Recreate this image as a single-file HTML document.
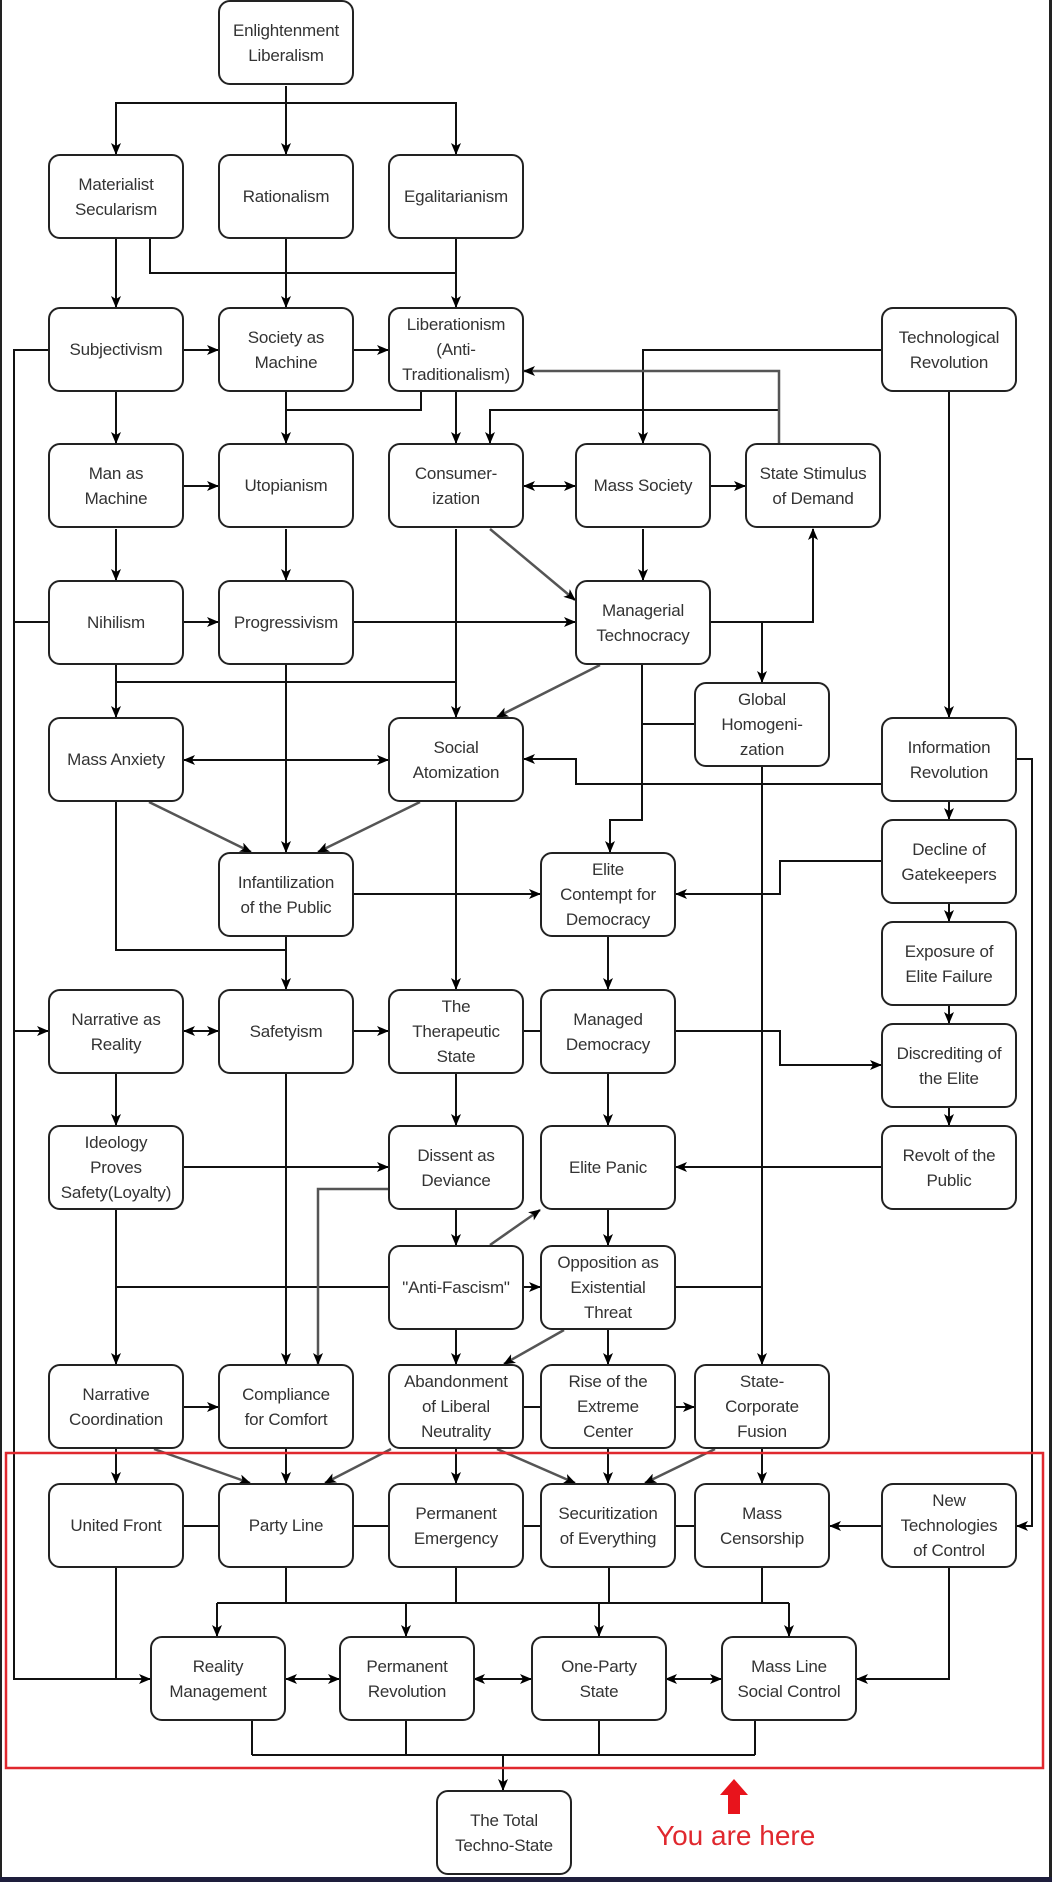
<!DOCTYPE html>
<html><head><meta charset="utf-8"><style>
body{margin:0;background:#fff;}
#c{position:relative;width:1052px;height:1882px;overflow:hidden;background:#fff;font-family:"Liberation Sans",Arial,sans-serif;}
.b{position:absolute;width:132px;height:81px;border:2px solid #222;border-radius:12px;background:#fff;display:flex;align-items:center;justify-content:center;text-align:center;font-size:17px;line-height:25px;color:#333;box-sizing:content-box;z-index:2;white-space:nowrap;letter-spacing:-0.2px}
svg{position:absolute;left:0;top:0;z-index:1}
</style></head><body><div id="c">
<svg width="1052" height="1882" viewBox="0 0 1052 1882">
<defs>
<marker id="a" markerWidth="12" markerHeight="10" refX="11" refY="5" orient="auto-start-reverse" markerUnits="userSpaceOnUse"><path d="M0,0 L12,5 L0,10 L3,5 z" fill="#000"/></marker>
</defs>
<rect x="0" y="0" width="2" height="1882" fill="#222"/>
<rect x="1049" y="0" width="3" height="1882" fill="#222"/>
<g fill="none" stroke="#111" stroke-width="2">
<!-- top -->
<path d="M286 86V154" marker-end="url(#a)"/>
<path d="M116 154V103H456V154" marker-end="url(#a)"/>
<path d="M116 103V154" marker-end="url(#a)"/>
<path d="M116 239V307" marker-end="url(#a)"/>
<path d="M286 239V307" marker-end="url(#a)"/>
<path d="M456 239V307" marker-end="url(#a)"/>
<path d="M150 239V273H456"/>
<path d="M184 350H218" marker-end="url(#a)"/>
<path d="M354 350H388" marker-end="url(#a)"/>
<path d="M48 350H14V1679H150" marker-end="url(#a)"/>
<path d="M48 622H14"/>
<path d="M14 1031H48" marker-end="url(#a)"/>
<path d="M116 392V443" marker-end="url(#a)"/>
<path d="M286 392V443" marker-end="url(#a)"/>
<path d="M421 392V410H286"/>
<path d="M456 392V443" marker-end="url(#a)"/>
<path d="M881 350H643V443" marker-end="url(#a)"/>
<path d="M779 443V410H490V443" marker-end="url(#a)"/>
<path d="M949 392V717" marker-end="url(#a)"/>
<path d="M184 486H218" marker-end="url(#a)"/>
<path d="M524 486H575" marker-start="url(#a)" marker-end="url(#a)"/>
<path d="M711 486H745" marker-end="url(#a)"/>
<path d="M116 529V580" marker-end="url(#a)"/>
<path d="M286 529V580" marker-end="url(#a)"/>
<path d="M643 529V580" marker-end="url(#a)"/>
<path d="M184 622H218" marker-end="url(#a)"/>
<path d="M354 622H575" marker-end="url(#a)"/>
<path d="M711 622H813V529" marker-end="url(#a)"/>
<path d="M762 622V682" marker-end="url(#a)"/>
<path d="M456 529V717" marker-end="url(#a)"/>
<path d="M116 665V717" marker-end="url(#a)"/>
<path d="M116 682H456"/>
<path d="M642 665V820H610V852" marker-end="url(#a)"/>
<path d="M642 724H694"/>
<path d="M762 767V1364" marker-end="url(#a)"/>
<path d="M184 760H388" marker-start="url(#a)" marker-end="url(#a)"/>
<path d="M881 784H576V759H524" marker-end="url(#a)"/>
<path d="M1017 759H1032V1526H1017" marker-end="url(#a)"/>
<path d="M949 802V819" marker-end="url(#a)"/>
<path d="M286 665V852" marker-end="url(#a)"/>
<path d="M116 802V950H286"/>
<path d="M286 937V989" marker-end="url(#a)"/>
<path d="M456 802V989" marker-end="url(#a)"/>
<path d="M354 894H540" marker-end="url(#a)"/>
<path d="M881 861H780V894H676" marker-end="url(#a)"/>
<path d="M949 903V921" marker-end="url(#a)"/>
<path d="M949 1005V1023" marker-end="url(#a)"/>
<path d="M949 1108V1125" marker-end="url(#a)"/>
<path d="M608 937V989" marker-end="url(#a)"/>
<path d="M676 1031H780V1065H881" marker-end="url(#a)"/>
<path d="M184 1031H218" marker-start="url(#a)" marker-end="url(#a)"/>
<path d="M354 1031H388" marker-end="url(#a)"/>
<path d="M524 1031H540"/>
<path d="M116 1074V1125" marker-end="url(#a)"/>
<path d="M456 1074V1125" marker-end="url(#a)"/>
<path d="M184 1167H388" marker-end="url(#a)"/>
<path d="M881 1167H676" marker-end="url(#a)"/>
<path d="M456 1210V1245" marker-end="url(#a)"/>
<path d="M608 1074V1125" marker-end="url(#a)"/>
<path d="M608 1210V1245" marker-end="url(#a)"/>
<path d="M524 1287H540" marker-end="url(#a)"/>
<path d="M116 1210V1364" marker-end="url(#a)"/>
<path d="M116 1287H388"/>
<path d="M676 1287H762"/>
<path d="M456 1330V1364" marker-end="url(#a)"/>
<path d="M608 1330V1364" marker-end="url(#a)"/>
<path d="M286 1074V1364" marker-end="url(#a)"/>
<path d="M184 1407H218" marker-end="url(#a)"/>
<path d="M524 1407H540"/>
<path d="M676 1407H694" marker-end="url(#a)"/>
<path d="M116 1449V1483" marker-end="url(#a)"/>
<path d="M286 1449V1483" marker-end="url(#a)"/>
<path d="M456 1449V1483" marker-end="url(#a)"/>
<path d="M608 1449V1483" marker-end="url(#a)"/>
<path d="M762 1449V1483" marker-end="url(#a)"/>
<path d="M184 1526H218M354 1526H388M524 1526H540M676 1526H694"/>
<path d="M881 1526H830" marker-end="url(#a)"/>
<path d="M286 1568V1603M456 1568V1603M609 1568V1603M762 1568V1603M217 1603H789"/>
<path d="M217 1603V1636" marker-end="url(#a)"/>
<path d="M406 1603V1636" marker-end="url(#a)"/>
<path d="M599 1603V1636" marker-end="url(#a)"/>
<path d="M789 1603V1636" marker-end="url(#a)"/>
<path d="M116 1568V1679"/>
<path d="M949 1568V1679H857" marker-end="url(#a)"/>
<path d="M286 1679H339" marker-start="url(#a)" marker-end="url(#a)"/>
<path d="M474 1679H531" marker-start="url(#a)" marker-end="url(#a)"/>
<path d="M666 1679H721" marker-start="url(#a)" marker-end="url(#a)"/>
<path d="M252 1721V1755M406 1721V1755M599 1721V1755M755 1721V1755M252 1755H755"/>
<path d="M503 1755V1790" marker-end="url(#a)"/>
</g>
<g fill="none" stroke="#555" stroke-width="2.5">
<path d="M779 443V371H524" marker-end="url(#a)"/>
<path d="M490 529L575 600" marker-end="url(#a)"/>
<path d="M600 665L497 717" marker-end="url(#a)"/>
<path d="M149 802L251 852" marker-end="url(#a)"/>
<path d="M420 802L318 852" marker-end="url(#a)"/>
<path d="M388 1189H318V1364" marker-end="url(#a)"/>
<path d="M490 1245L540 1210" marker-end="url(#a)"/>
<path d="M564 1330L504 1364" marker-end="url(#a)"/>
<path d="M154 1449L250 1483" marker-end="url(#a)"/>
<path d="M391 1449L325 1483" marker-end="url(#a)"/>
<path d="M497 1449L575 1483" marker-end="url(#a)"/>
<path d="M715 1449L645 1483" marker-end="url(#a)"/>
</g>
<rect x="6" y="1453" width="1037" height="315" fill="none" stroke="#e0282e" stroke-width="2.5"/>
<path d="M734 1779L748 1795H740V1814H728V1795H720Z" fill="#e8141c"/>
<text x="656" y="1845" font-family="Liberation Sans, Arial, sans-serif" font-size="28" fill="#e0282e">You are here</text>
<rect x="0" y="1877" width="1052" height="5" fill="#1e1e3c"/>
</svg>
<div class="b" style="left:218px;top:0">Enlightenment<br>Liberalism</div>
<div class="b" style="left:48px;top:154px">Materialist<br>Secularism</div>
<div class="b" style="left:218px;top:154px">Rationalism</div>
<div class="b" style="left:388px;top:154px">Egalitarianism</div>
<div class="b" style="left:48px;top:307px">Subjectivism</div>
<div class="b" style="left:218px;top:307px">Society as<br>Machine</div>
<div class="b" style="left:388px;top:307px">Liberationism<br>(Anti-<br>Traditionalism)</div>
<div class="b" style="left:881px;top:307px">Technological<br>Revolution</div>
<div class="b" style="left:48px;top:443px">Man as<br>Machine</div>
<div class="b" style="left:218px;top:443px">Utopianism</div>
<div class="b" style="left:388px;top:443px">Consumer-<br>ization</div>
<div class="b" style="left:575px;top:443px">Mass Society</div>
<div class="b" style="left:745px;top:443px">State Stimulus<br>of Demand</div>
<div class="b" style="left:48px;top:580px">Nihilism</div>
<div class="b" style="left:218px;top:580px">Progressivism</div>
<div class="b" style="left:575px;top:580px">Managerial<br>Technocracy</div>
<div class="b" style="left:694px;top:682px">Global<br>Homogeni-<br>zation</div>
<div class="b" style="left:48px;top:717px">Mass Anxiety</div>
<div class="b" style="left:388px;top:717px">Social<br>Atomization</div>
<div class="b" style="left:881px;top:717px">Information<br>Revolution</div>
<div class="b" style="left:218px;top:852px">Infantilization<br>of the Public</div>
<div class="b" style="left:540px;top:852px">Elite<br>Contempt for<br>Democracy</div>
<div class="b" style="left:881px;top:819px">Decline of<br>Gatekeepers</div>
<div class="b" style="left:881px;top:921px">Exposure of<br>Elite Failure</div>
<div class="b" style="left:48px;top:989px">Narrative as<br>Reality</div>
<div class="b" style="left:218px;top:989px">Safetyism</div>
<div class="b" style="left:388px;top:989px">The<br>Therapeutic<br>State</div>
<div class="b" style="left:540px;top:989px">Managed<br>Democracy</div>
<div class="b" style="left:881px;top:1023px">Discrediting of<br>the Elite</div>
<div class="b" style="left:48px;top:1125px">Ideology<br>Proves<br>Safety(Loyalty)</div>
<div class="b" style="left:388px;top:1125px">Dissent as<br>Deviance</div>
<div class="b" style="left:540px;top:1125px">Elite Panic</div>
<div class="b" style="left:881px;top:1125px">Revolt of the<br>Public</div>
<div class="b" style="left:388px;top:1245px">"Anti-Fascism"</div>
<div class="b" style="left:540px;top:1245px">Opposition as<br>Existential<br>Threat</div>
<div class="b" style="left:48px;top:1364px">Narrative<br>Coordination</div>
<div class="b" style="left:218px;top:1364px">Compliance<br>for Comfort</div>
<div class="b" style="left:388px;top:1364px">Abandonment<br>of Liberal<br>Neutrality</div>
<div class="b" style="left:540px;top:1364px">Rise of the<br>Extreme<br>Center</div>
<div class="b" style="left:694px;top:1364px">State-<br>Corporate<br>Fusion</div>
<div class="b" style="left:48px;top:1483px">United Front</div>
<div class="b" style="left:218px;top:1483px">Party Line</div>
<div class="b" style="left:388px;top:1483px">Permanent<br>Emergency</div>
<div class="b" style="left:540px;top:1483px">Securitization<br>of Everything</div>
<div class="b" style="left:694px;top:1483px">Mass<br>Censorship</div>
<div class="b" style="left:881px;top:1483px">New<br>Technologies<br>of Control</div>
<div class="b" style="left:150px;top:1636px">Reality<br>Management</div>
<div class="b" style="left:339px;top:1636px">Permanent<br>Revolution</div>
<div class="b" style="left:531px;top:1636px">One-Party<br>State</div>
<div class="b" style="left:721px;top:1636px">Mass Line<br>Social Control</div>
<div class="b" style="left:436px;top:1790px">The Total<br>Techno-State</div>
</div></body></html>
